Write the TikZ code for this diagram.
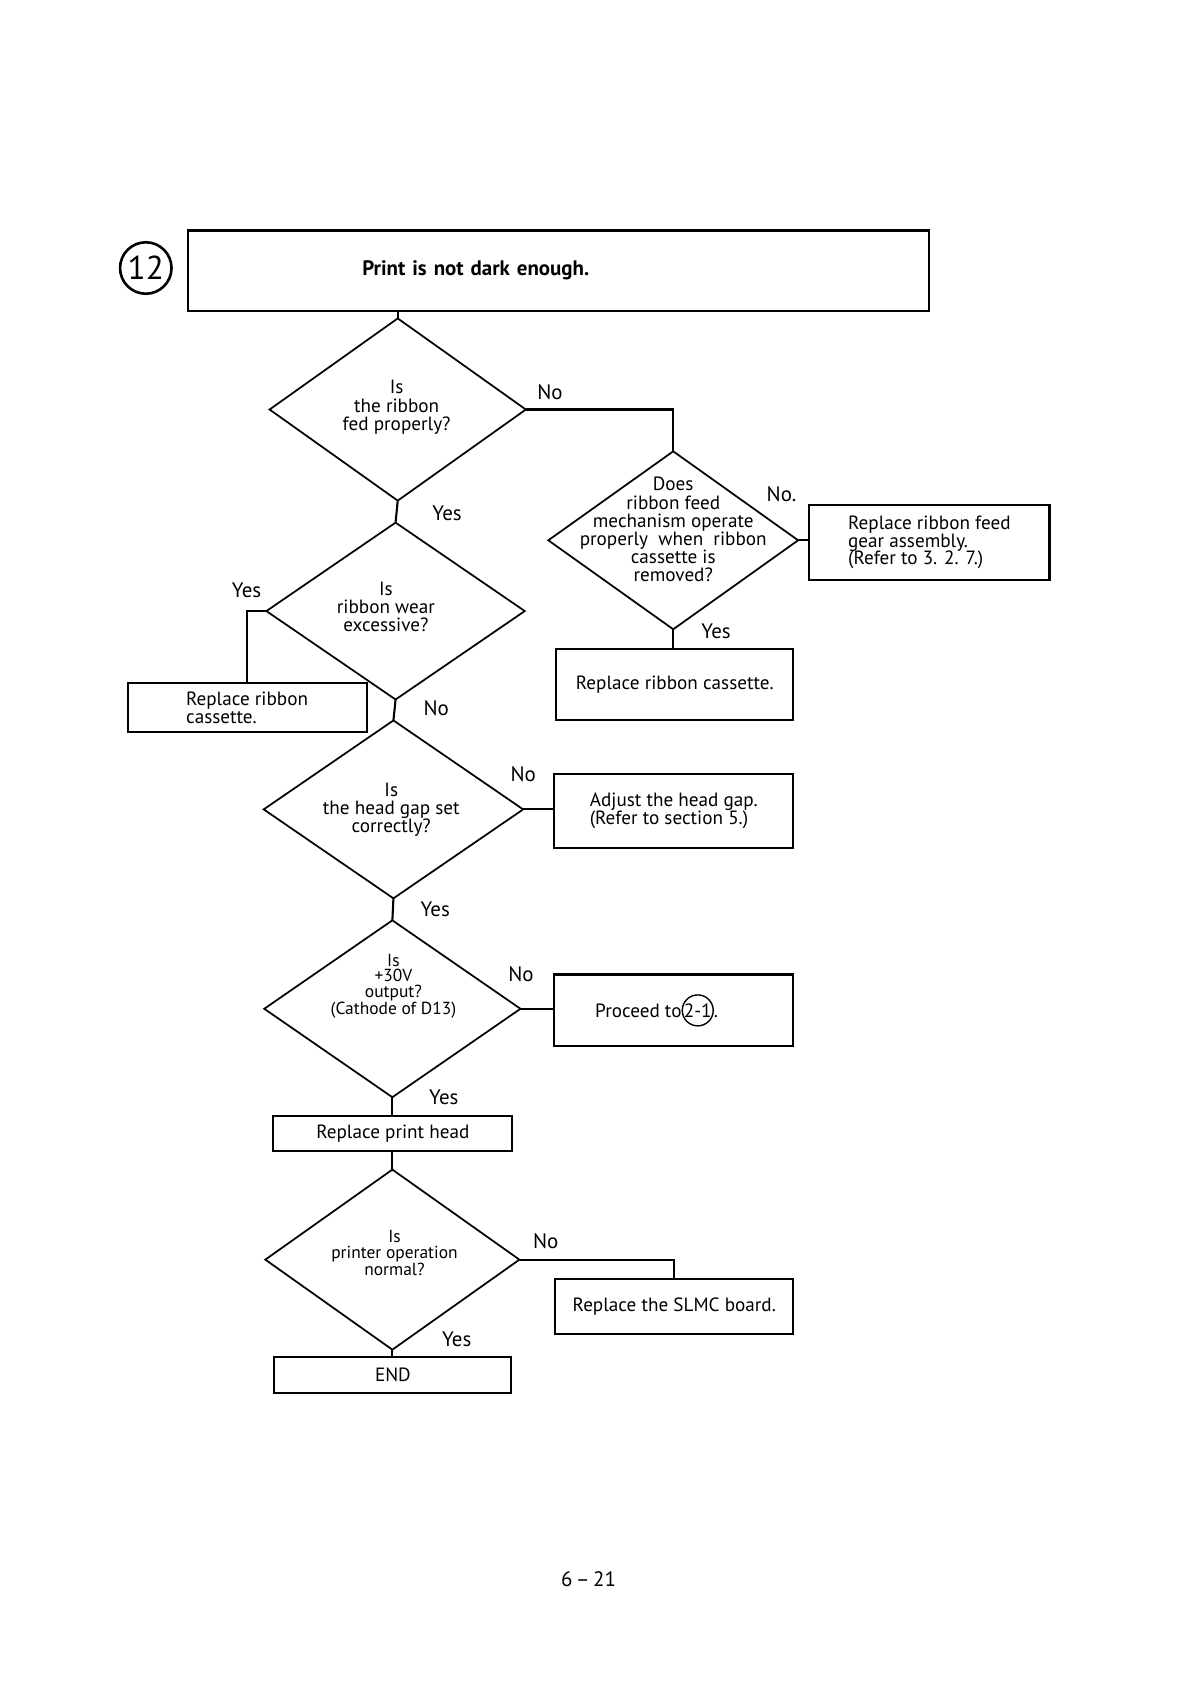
\documentclass[tikz,border=0pt]{standalone}
\usepackage{fontspec}
\setmainfont{PT Sans}
\usetikzlibrary{shapes.geometric}
\newlength\U \setlength\U{0.0216cm}
\newcommand\circnum[1]{\tikz[baseline=(cn.base)]\node[draw,circle,inner sep=0pt,line width=0.8pt,minimum width=0pt,minimum height=0pt,minimum size=0pt,outer sep=0pt](cn){#1};}
\begin{document}
\begin{tikzpicture}[x=0.0216cm,y=-0.0216cm,
 dia/.style={draw,diamond,line width=1pt,inner sep=0pt,outer sep=0pt},
 box/.style={draw,rectangle,line width=1.2pt,inner sep=0pt,outer sep=0pt,align=center,font=\fontsize{11}{10.2}\selectfont},
 conn/.style={line width=1.2pt},
 lab/.style={font=\fontsize{12}{13}\selectfont,inner sep=0pt},
 dtext/.style={align=center,font=\fontsize{11}{10.4}\selectfont,inner sep=0pt},
 stext/.style={align=center,font=\fontsize{10}{8.9}\selectfont,inner sep=0pt}]
\fill[white] (0,0) rectangle (1108,1569);
\useasboundingbox (0,0) rectangle (1108,1569);

% header
\node[draw,circle,line width=1.5pt,minimum size=48*\U,inner sep=0pt,font=\fontsize{19}{20}\selectfont] (num) at (136,250) {12};
\node[box,minimum width=692*\U,minimum height=75*\U,text width=692*\U,align=left,font=\bfseries\fontsize{12}{13}\selectfont] (title) at (521,252.5) {\hspace*{163\U}Print is not dark enough.};

% diamonds
\node[dia,minimum width=239*\U,minimum height=170*\U] (d1) at (371,382) {};
\node[dtext] (t1) at (370,380) {Is\\the ribbon\\fed properly?};
\node[dia,minimum width=233*\U,minimum height=166*\U] (d2) at (628,504) {};
\node[dtext] (t2) at (628,494) {Does\\ribbon feed\\mechanism operate\\properly \ when \ ribbon\\cassette is\\removed?};
\node[dia,minimum width=241*\U,minimum height=165*\U] (d3) at (369,570) {};
\node[dtext] (t3) at (360,566) {Is\\ribbon wear\\excessive?};
\node[dia,minimum width=242*\U,minimum height=166*\U] (d4) at (367,755) {};
\node[dtext] (t4) at (365,755) {Is\\the head gap set\\correctly?};
\node[dia,minimum width=239*\U,minimum height=165*\U] (d5) at (366,941) {};
\node[stext] (t5) at (367,920) {Is\\+30V\\output?\\(Cathode of D13)};
\node[dia,minimum width=237*\U,minimum height=168*\U] (d6) at (366,1175) {};
\node[stext] (t6) at (368,1169) {Is\\printer operation\\normal?};

% boxes
\node[box,minimum width=224*\U,minimum height=70*\U,align=left] (feed) at (867,506) {Replace ribbon feed\\gear assembly.\\(Refer to 3. 2. 7.)};
\node[box,minimum width=221*\U,minimum height=67*\U] (cass2) at (629.5,638.5) {Replace ribbon cassette.};
\node[box,minimum width=223*\U,minimum height=46*\U,align=left] (cass1) at (230.5,660) {Replace ribbon\\cassette.};
\node[box,minimum width=223*\U,minimum height=69*\U,align=left] (gap) at (628.5,756.5) {Adjust the head gap.\\(Refer to section 5.)};
\node[box,minimum width=223*\U,minimum height=67*\U] (proc) at (628.5,942.5) {Proceed to\circnum{2-1}.\hspace*{32\U}};
\node[box,minimum width=223*\U,minimum height=33*\U] (head) at (366.5,1057.5) {Replace print head};
\node[box,minimum width=222*\U,minimum height=51*\U] (slmc) at (629,1218.5) {Replace the SLMC board.};
\node[box,minimum width=221*\U,minimum height=33*\U] (endb) at (366.5,1282.5) {END};

% connectors
\draw[conn] (title.south -| d1.north) -- (d1.north);
\draw[conn] (d1.east) -| (d2.north);
\draw[conn] (d2.east) -- (feed.west |- d2.east);
\draw[conn] (d2.south) -- (cass2.north -| d2.south);
\draw[conn] (d1.south) -- (d3.north);
\draw[conn] (d3.west) -| (cass1.north);
\draw[conn] (d3.south) -- (d4.north);
\draw[conn] (d4.east) -- (gap.west |- d4.east);
\draw[conn] (d4.south) -- (d5.north);
\draw[conn] (d5.east) -- (proc.west |- d5.east);
\draw[conn] (d5.south) -- (head.north -| d5.south);
\draw[conn] (head.south -| d6.north) -- (d6.north);
\draw[conn] (d6.east) -| (slmc.north);
\draw[conn] (d6.south) -- (endb.north -| d6.south);

% branch labels
\node[lab] (l1) at (513,366) {No};
\node[lab] (l2) at (417,479) {Yes};
\node[lab] (l3) at (729,461) {No.};
\node[lab] (l4) at (668,589) {Yes};
\node[lab] (l5) at (230,551) {Yes};
\node[lab] (l6) at (407,661) {No};
\node[lab] (l7) at (488,722) {No};
\node[lab] (l8) at (406,848) {Yes};
\node[lab] (l9) at (486,909) {No};
\node[lab] (l10) at (414,1024) {Yes};
\node[lab] (l11) at (509,1158) {No};
\node[lab] (l12) at (426,1249) {Yes};

% page number
\node[font=\fontsize{12}{13}\selectfont,inner sep=0pt] (page) at (549,1473) {6\,--\,21};
\end{tikzpicture}
\end{document}
